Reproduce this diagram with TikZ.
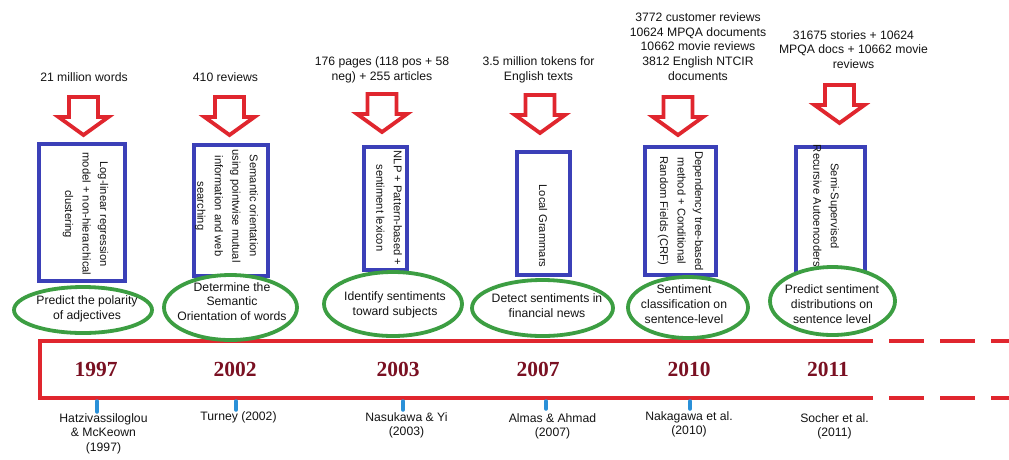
\documentclass[tikz,border=0pt]{standalone}
\usepackage{fontspec}
\setmainfont{Liberation Sans}
\newfontfamily\yearfont{Liberation Serif}
\usetikzlibrary{shapes.geometric}

\definecolor{tlred}{HTML}{E0262E}
\definecolor{boxblue}{HTML}{3B40B8}
\definecolor{ovalgreen}{HTML}{3C9E42}
\definecolor{yearred}{HTML}{7A1022}
\definecolor{tickblue}{HTML}{2A90D8}
\definecolor{txt}{HTML}{141414}

\tikzset{
  datatext/.style={font=\fontsize{12.2}{14.7}\selectfont, align=center, inner sep=0pt, text=txt},
  methodbox/.style={draw=boxblue, line width=4pt, fill=white, inner sep=0pt},
  methodtext/.style={font=\fontsize{11.2}{17.5}\selectfont, align=center, inner sep=0pt, text=txt, rotate=-90},
  goal/.style={ellipse, draw=ovalgreen, line width=3.8pt, fill=white, inner sep=0pt},
  goaltext/.style={font=\fontsize{12.2}{14.8}\selectfont, align=center, inner sep=0pt, text=txt},
  yearlabel/.style={font=\yearfont\bfseries\fontsize{21.5}{21.5}\selectfont, text=yearred, inner sep=0pt},
  author/.style={font=\fontsize{12.2}{14.6}\selectfont, align=center, inner sep=0pt, text=txt},
  timeline/.style={draw=tlred, line width=4pt},
  tick/.style={draw=tickblue, line width=3.5pt, line cap=round},
  pics/downblock/.style={code={
    \draw[draw=tlred, line width=3.8pt, fill=white, line join=miter]
      (-14.5,2) -- (14.5,2) -- (14.5,22) -- (25,22) -- (0,40) -- (-25,22) -- (-14.5,22) -- cycle;
  }}
}

\begin{document}
\begin{tikzpicture}[x=1pt,y=-1pt]
\useasboundingbox[fill=white] (0,0) rectangle (1009,459);

% dataset descriptions
\node[datatext] (d1) at (84,77) {21 million words};
\node[datatext] (d2) at (225.5,77) {410 reviews};
\node[datatext] (d3) at (382,69.5) {176 pages (118 pos + 58\\neg) + 255 articles};
\node[datatext] (d4) at (538.5,69.5) {3.5 million tokens for\\English texts};
\node[datatext] (d5) at (698,46.5) {3772 customer reviews\\10624 MPQA documents\\10662 movie reviews\\3812 English NTCIR\\documents};
\node[datatext] (d6) at (853.5,49.5) {31675 stories + 10624\\MPQA docs + 10662 movie\\reviews};

% hollow arrows from data to method
\pic at (83.5,95) {downblock};
\pic at (229.5,95) {downblock};
\pic at (382,92) {downblock};
\pic at (540,93) {downblock};
\pic at (678,95) {downblock};
\pic at (839.5,83) {downblock};

% timeline band
\draw[timeline] (873,341) -- (40,341) -- (40,398) -- (873,398);
\draw[timeline, dash pattern=on 35pt off 16pt, dash phase=35pt] (873,341) -- (1009,341);
\draw[timeline, dash pattern=on 35pt off 16pt, dash phase=35pt] (873,398) -- (1009,398);

% methods
\node[methodbox, minimum width=86pt, minimum height=137pt] (m1) at (82,212.5) {};
\node[methodbox, minimum width=74pt, minimum height=131pt] (m2) at (231,210.5) {};
\node[methodbox, minimum width=43pt, minimum height=123pt] (m3) at (385.5,208.5) {};
\node[methodbox, minimum width=53pt, minimum height=123pt] (m4) at (543.5,213.5) {};
\node[methodbox, minimum width=71pt, minimum height=128pt] (m5) at (680.5,211) {};
\node[methodbox, minimum width=69pt, minimum height=128pt] (m6) at (830.5,211) {};

\node[methodtext] (mt1) at (85.5,214) {Log-linear regression\\model + non-hierarchical\\clustering};
\node[methodtext] (mt2) at (226.5,206) {Semantic orientation\\using pointwise mutual\\information and web\\searching};
\node[methodtext] (mt3) at (389,208) {NLP + Pattern-based +\\sentiment lexicon};
\node[methodtext] (mt4) at (543,226) {Local Grammars};
\node[methodtext] (mt5) at (680.5,211) {Dependency tree-based\\method + Conditional\\Random Fields (CRF)};
\node[methodtext] (mt6) at (826,206) {Semi-Supervised\\Recursive Autoencoders};

% goals
\node[goal, minimum width=138pt, minimum height=46pt] (g1) at (83,310) {};
\node[goal, minimum width=133pt, minimum height=65pt] (g2) at (230.5,307.5) {};
\node[goal, minimum width=138pt, minimum height=64pt] (g3) at (393,304) {};
\node[goal, minimum width=141pt, minimum height=56pt] (g4) at (542.5,308) {};
\node[goal, minimum width=120pt, minimum height=61pt] (g5) at (688,307.5) {};
\node[goal, minimum width=125pt, minimum height=68pt] (g6) at (832.5,301) {};

\node[goaltext] (gt1) at (87,309) {Predict the polarity\\of adjectives};
\node[goaltext] (gt2) at (232,301.5) {Determine the\\Semantic\\Orientation of words};
\node[goaltext] (gt3) at (395,305) {Identify sentiments\\toward subjects};
\node[goaltext] (gt4) at (547,305.5) {Detect sentiments in\\financial news};
\node[goaltext] (gt5) at (684,304) {Sentiment\\classification on\\sentence-level};
\node[goaltext] (gt6) at (832,304) {Predict sentiment\\distributions on\\sentence level};

% years
\node[yearlabel] (y1) at (96,369) {1997};
\node[yearlabel] (y2) at (235,369) {2002};
\node[yearlabel] (y3) at (398,369) {2003};
\node[yearlabel] (y4) at (538,369) {2007};
\node[yearlabel] (y5) at (689,369) {2010};
\node[yearlabel] (y6) at (828,369) {2011};

% ticks under the band
\draw[tick] (97,401) -- (97,412);
\draw[tick] (236,401) -- (236,410);
\draw[tick] (403,401) -- (403,410);
\draw[tick] (546,401) -- (546,409);
\draw[tick] (690,401) -- (690,409);

% references
\node[author] (a1) at (103.5,433.5) {Hatzivassiloglou\\\& McKeown\\(1997)};
\node[author] (a2) at (238.5,417) {Turney (2002)};
\node[author] (a3) at (406.5,425.5) {Nasukawa \& Yi\\(2003)};
\node[author] (a4) at (552.5,426.5) {Almas \& Ahmad\\(2007)};
\node[author] (a5) at (689,424.5) {Nakagawa et al.\\(2010)};
\node[author] (a6) at (834.5,426.5) {Socher et al.\\(2011)};
\end{tikzpicture}
\end{document}
